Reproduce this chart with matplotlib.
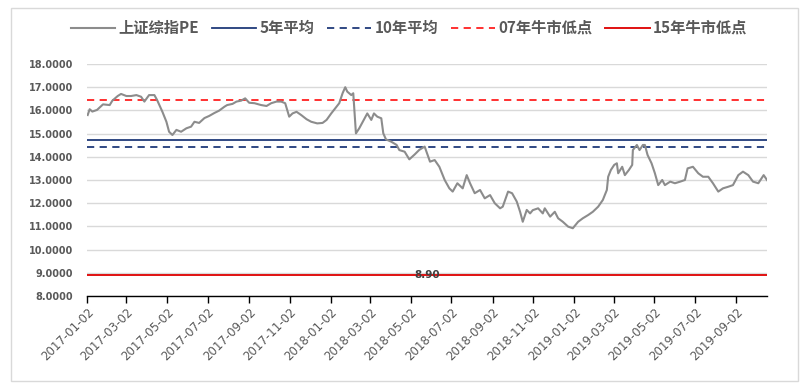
import matplotlib
matplotlib.use("Agg")
import matplotlib.pyplot as plt
from matplotlib.patches import Rectangle
import pandas as pd

plt.rcParams['font.family'] = ['Noto Sans CJK SC', 'DejaVu Sans']

# ---- data ----
pe_dates = [
    "2017-01-03", "2017-01-06", "2017-01-10", "2017-01-17", "2017-01-26", "2017-02-05", "2017-02-09",
    "2017-02-17", "2017-02-22", "2017-03-02", "2017-03-09", "2017-03-17", "2017-03-24", "2017-03-29",
    "2017-04-05", "2017-04-13", "2017-04-17", "2017-04-25", "2017-05-01", "2017-05-05", "2017-05-10",
    "2017-05-16", "2017-05-23", "2017-05-31", "2017-06-07", "2017-06-12", "2017-06-19", "2017-06-27",
    "2017-07-04", "2017-07-12", "2017-07-19", "2017-07-27", "2017-07-31", "2017-08-08", "2017-08-14",
    "2017-08-21", "2017-08-27", "2017-09-02", "2017-09-10", "2017-09-20", "2017-09-28", "2017-10-05",
    "2017-10-13", "2017-10-20", "2017-10-26", "2017-11-01", "2017-11-06", "2017-11-12", "2017-11-19",
    "2017-11-27", "2017-12-04", "2017-12-13", "2017-12-21", "2017-12-27",
    "2018-01-03", "2018-01-11", "2018-01-15", "2018-01-20", "2018-01-24", "2018-01-27", "2018-02-02",
    "2018-02-05", "2018-02-09", "2018-02-14", "2018-02-22", "2018-02-26", "2018-03-04", "2018-03-08",
    "2018-03-13", "2018-03-19", "2018-03-22", "2018-03-26", "2018-04-03", "2018-04-11", "2018-04-15",
    "2018-04-23", "2018-04-30", "2018-05-08", "2018-05-15", "2018-05-23", "2018-05-31", "2018-06-07",
    "2018-06-14", "2018-06-22", "2018-06-29", "2018-07-04", "2018-07-11", "2018-07-19", "2018-07-25",
    "2018-07-30", "2018-08-06", "2018-08-14", "2018-08-21", "2018-08-29", "2018-09-05", "2018-09-13",
    "2018-09-17", "2018-09-25", "2018-10-01", "2018-10-08", "2018-10-13", "2018-10-17", "2018-10-23",
    "2018-10-28", "2018-11-01", "2018-11-09", "2018-11-16", "2018-11-19", "2018-11-27", "2018-12-04",
    "2018-12-09", "2018-12-16", "2018-12-24", "2018-12-31",
    "2019-01-08", "2019-01-15", "2019-01-23", "2019-01-30", "2019-02-07", "2019-02-14", "2019-02-20",
    "2019-02-22", "2019-02-26", "2019-03-03", "2019-03-07", "2019-03-09", "2019-03-15", "2019-03-19",
    "2019-03-25", "2019-03-30", "2019-03-31", "2019-04-06", "2019-04-10", "2019-04-15", "2019-04-18",
    "2019-04-22", "2019-04-28", "2019-05-03", "2019-05-08", "2019-05-14", "2019-05-18", "2019-05-26",
    "2019-06-02", "2019-06-10", "2019-06-17", "2019-06-21", "2019-06-29", "2019-07-07", "2019-07-14",
    "2019-07-22", "2019-07-29", "2019-08-06", "2019-08-13", "2019-08-21", "2019-08-28", "2019-09-05",
    "2019-09-12", "2019-09-20", "2019-09-27", "2019-10-05", "2019-10-13", "2019-10-18",
]
pe_values = [
    15.80, 16.05, 15.95, 16.02, 16.26, 16.23, 16.42,
    16.62, 16.71, 16.62, 16.62, 16.66, 16.59, 16.38,
    16.66, 16.66, 16.45, 15.94, 15.51, 15.08, 14.94,
    15.16, 15.08, 15.23, 15.30, 15.51, 15.46, 15.67,
    15.76, 15.89, 15.99, 16.16, 16.23, 16.28, 16.38,
    16.42, 16.52, 16.33, 16.31, 16.23, 16.19, 16.31,
    16.38, 16.38, 16.31, 15.73, 15.87, 15.94, 15.80,
    15.62, 15.51, 15.44, 15.46, 15.59,
    15.87, 16.16, 16.31, 16.74, 17.00, 16.81, 16.66,
    16.74, 15.01, 15.23, 15.66, 15.87, 15.59, 15.87,
    15.73, 15.66, 15.01, 14.75, 14.65, 14.51, 14.29,
    14.22, 13.89, 14.10, 14.30, 14.44, 13.79, 13.86,
    13.57, 13.00, 12.64, 12.50, 12.86, 12.64, 13.21,
    12.86, 12.43, 12.57, 12.21, 12.35, 12.00, 11.78,
    11.85, 12.50, 12.43, 12.07, 11.63, 11.20, 11.71,
    11.56, 11.70, 11.78, 11.56, 11.78, 11.42, 11.63,
    11.35, 11.20, 10.99, 10.92,
    11.20, 11.35, 11.49, 11.63, 11.85, 12.14, 12.57,
    13.14, 13.43, 13.65, 13.72, 13.29, 13.57, 13.21,
    13.43, 13.65, 14.29, 14.51, 14.29, 14.51, 14.51,
    14.08, 13.72, 13.29, 12.78, 13.00, 12.78, 12.93,
    12.86, 12.93, 13.00, 13.50, 13.57, 13.29, 13.14,
    13.14, 12.86, 12.50, 12.64, 12.71, 12.78, 13.21,
    13.36, 13.21, 12.93, 12.86, 13.21, 13.00,
]
avg_5y = 14.71
avg_10y = 14.44
low_07 = 16.45
low_15 = 8.90
low_15_label = "8.90"

tick_dates = ["2017-01-02", "2017-03-02", "2017-05-02", "2017-07-02", "2017-09-02", "2017-11-02",
              "2018-01-02", "2018-03-02", "2018-05-02", "2018-07-02", "2018-09-02", "2018-11-02",
              "2019-01-02", "2019-03-02", "2019-05-02", "2019-07-02", "2019-09-02"]
x_start = "2017-01-02"
x_end = "2019-10-18"
y_ticks = [8, 9, 10, 11, 12, 13, 14, 15, 16, 17, 18]

legend_labels = ["上证综指PE", "5年平均", "10年平均", "07年牛市低点", "15年牛市低点"]

# ---- figure ----
W, H = 807, 386
fig = plt.figure(figsize=(W / 100, H / 100), dpi=100)
fig.patch.set_facecolor("white")
fig.patches.append(Rectangle((11 / W, 1 - 381 / H), (798 - 11) / W, (381 - 8) / H,
                             transform=fig.transFigure, fill=False,
                             edgecolor="#d9d9d9", linewidth=1.0))

ax = fig.add_axes([87 / W, 1 - 296 / H, (767 - 87) / W, (296 - 64) / H])

xd = pd.to_datetime(pe_dates)
text_col = "#595959"

ax.set_ylim(8, 18)
ax.set_yticks(y_ticks)
ax.set_xlim(pd.Timestamp(x_start), pd.Timestamp(x_end))
ax.yaxis.grid(True, color="#d9d9d9", linewidth=1.0)
ax.set_axisbelow(True)

l1, = ax.plot(xd, pe_values, color="#8c8c8c", linewidth=1.5, zorder=3)
l2 = ax.axhline(avg_5y, color="#203a7a", linewidth=1.3, zorder=2)
l3 = ax.axhline(avg_10y, color="#203a7a", linewidth=1.3, linestyle=(0, (4, 3)), zorder=2)
l4 = ax.axhline(low_07, color="#ff2020", linewidth=1.3, linestyle=(0, (4, 3)), zorder=2)
l5 = ax.axhline(low_15, color="#e01010", linewidth=1.4, zorder=2)

mid = pd.Timestamp(x_start) + (pd.Timestamp(x_end) - pd.Timestamp(x_start)) / 2
ax.text(mid, low_15, low_15_label, ha="center", va="center", fontsize=7.5,
        fontweight="bold", color="#404040", family=["DejaVu Sans"], zorder=4)

for s in ["left", "right", "top"]:
    ax.spines[s].set_visible(False)
ax.spines["bottom"].set_color("black")
ax.spines["bottom"].set_linewidth(1.0)

ax.yaxis.set_major_formatter(matplotlib.ticker.FormatStrFormatter("%.4f"))
ax.tick_params(axis="y", length=0, pad=10, labelsize=7, labelcolor=text_col)
for t in ax.get_yticklabels():
    t.set_fontweight("bold")
    t.set_family(["DejaVu Sans"])

tpos = pd.to_datetime(tick_dates)
ax.set_xticks(tpos)
ax.set_xticklabels(tick_dates, rotation=45, ha="right", rotation_mode="anchor",
                   fontsize=8.5, color=text_col, family=["DejaVu Sans"])
ax.tick_params(axis="x", length=5, width=1, color="black", pad=2)

fig.legend([l1, l2, l3, l4, l5], legend_labels, loc="center", bbox_to_anchor=(409 / W, 1 - 28 / H),
           ncol=5, frameon=False, handlelength=2.9, handletextpad=0.2,
           columnspacing=0.85, labelcolor=text_col,
           prop={"family": ["Noto Sans CJK SC", "DejaVu Sans"], "weight": "bold", "size": 11})

fig.savefig("out.png", dpi=100, facecolor="white")
